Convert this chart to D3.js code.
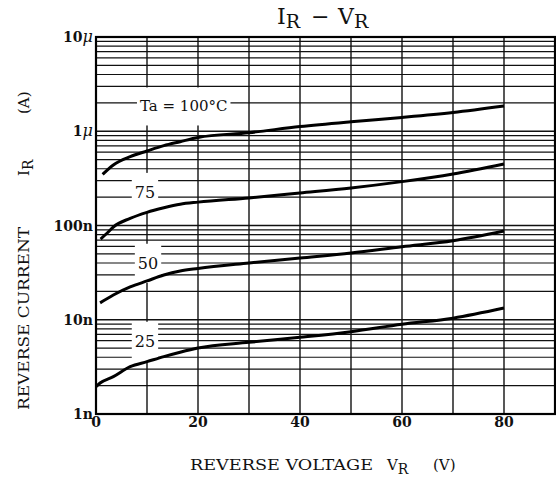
<!DOCTYPE html>
<html>
<head>
<meta charset="utf-8">
<script src="https://cdn.jsdelivr.net/npm/d3@7"></script>
<style>
  body { margin: 0; background: #fff; }
  svg { font-family: 'DejaVu Serif', serif; }
  text { fill: #111; }
</style>
</head>
<body>
<svg id="chart"></svg>
<script>
// IR - VR curves

// reverse voltage (V) and reverse current (A) for each temperature
var vr100 = [1.3, 3.4, 6.7, 10, 13.3, 16.5, 20, 30, 40, 50, 60, 70, 80];
var ir100 = [349e-9, 439e-9, 537e-9, 617e-9, 703e-9, 775e-9, 859e-9, 966e-9, 1.12e-6, 1.26e-6, 1.40e-6, 1.58e-6, 1.85e-6];

var vr75 = [0.9, 2.2, 3.4, 6.7, 10, 13.3, 16.5, 20, 30, 40, 50, 60, 70, 80];
var ir75 = [71.9e-9, 83.2e-9, 96.4e-9, 119e-9, 138e-9, 154e-9, 168e-9, 177e-9, 196e-9, 221e-9, 250e-9, 292e-9, 352e-9, 449e-9];

var vr50 = [0.8, 3.4, 6.7, 10, 13.3, 16.5, 20, 30, 40, 50, 60, 70, 80];
var ir50 = [15.1e-9, 18.3e-9, 22.3e-9, 25.8e-9, 29.8e-9, 32.9e-9, 35e-9, 40e-9, 45.2e-9, 51.1e-9, 59.6e-9, 69e-9, 87.4e-9];

var vr25 = [0, 0.8, 3.4, 6.7, 10, 13.3, 16.5, 20, 30, 40, 50, 60, 70, 80];
var ir25 = [1.95e-9, 2.13e-9, 2.49e-9, 3.18e-9, 3.59e-9, 4.06e-9, 4.52e-9, 5.01e-9, 5.76e-9, 6.51e-9, 7.47e-9, 8.95e-9, 10.4e-9, 13.3e-9];

// curve labels, placed in data units
var curveNames = ['Ta = 100°C', '75', '50', '25'];
var labelV = [17.2, 9.6, 10.2, 9.6];
var labelI = [1.85e-6, 226e-9, 40e-9, 5.95e-9];

// axis ticks
var xTicks = [0, 20, 40, 60, 80];
var yTicks = [1e-9, 1e-8, 1e-7, 1e-6, 1e-5];
var yTickText = [['1n', ''], ['10n', ''], ['100n', ''], ['1', 'μ'], ['10', 'μ']];

var W = 556, H = 481;
var svg = d3.select('#chart').attr('width', W).attr('height', H);

var x = d3.scaleLinear().domain([0, 90]).range([96, 555]);
var y = d3.scaleLog().domain([1e-9, 1e-5]).range([414, 37]);

// grid
var minor = [];
[1e-9, 1e-8, 1e-7, 1e-6].forEach(function (d) {
  for (var k = 2; k <= 9; k++) minor.push(d * k);
});

var grid = svg.append('g').attr('stroke', '#111').attr('fill', 'none');

grid.selectAll('line.minor').data(minor).enter().append('line')
  .attr('x1', x(0)).attr('x2', x(90))
  .attr('y1', function (d) { return y(d); })
  .attr('y2', function (d) { return y(d); })
  .attr('stroke-width', 1.2);

grid.selectAll('line.major').data(yTicks).enter().append('line')
  .attr('x1', x(0)).attr('x2', x(90))
  .attr('y1', function (d) { return y(d); })
  .attr('y2', function (d) { return y(d); })
  .attr('stroke-width', 1.6);

grid.selectAll('line.vert').data(d3.range(10, 90, 10)).enter().append('line')
  .attr('y1', y(1e-5)).attr('y2', y(1e-9))
  .attr('x1', function (d) { return x(d); })
  .attr('x2', function (d) { return x(d); })
  .attr('stroke-width', 1.4);

// label boxes knock out the grid behind the curve names
var labels = svg.append('g');
curveNames.forEach(function (name, i) {
  var g = labels.append('g');
  var t = g.append('text')
    .attr('x', x(labelV[i]))
    .attr('y', y(labelI[i]))
    .attr('dy', '0.36em')
    .attr('text-anchor', 'middle')
    .style('font-size', i === 0 ? '15px' : '16px')
    .text(name);
  var b = t.node().getBBox();
  g.insert('rect', 'text')
    .attr('x', b.x - 3).attr('y', b.y - 10)
    .attr('width', b.width + 6).attr('height', b.height + 20)
    .attr('fill', '#fff');
});

// curves
var line = d3.line()
  .x(function (d) { return x(d[0]); })
  .y(function (d) { return y(d[1]); })
  .curve(d3.curveMonotoneX);

var series = [[vr100, ir100], [vr75, ir75], [vr50, ir50], [vr25, ir25]];
svg.append('g').selectAll('path').data(series).enter().append('path')
  .attr('d', function (s) { return line(d3.zip(s[0], s[1])); })
  .attr('fill', 'none')
  .attr('stroke', '#000')
  .attr('stroke-width', 3);

// frame
svg.append('rect')
  .attr('x', x(0)).attr('y', y(1e-5))
  .attr('width', x(90) - x(0)).attr('height', y(1e-9) - y(1e-5))
  .attr('fill', 'none').attr('stroke', '#000').attr('stroke-width', 2.2);

// tick labels
var yl = svg.append('g').selectAll('text').data(yTicks).enter().append('text')
  .attr('x', x(0) - 3)
  .attr('y', function (d) { return y(d); })
  .attr('dy', '0.36em')
  .attr('text-anchor', 'end')
  .style('font-size', '14px')
  .style('font-weight', 'bold');
yl.append('tspan').text(function (d, i) { return yTickText[i][0]; });
yl.append('tspan').style('font-style', 'italic').style('font-weight', 'normal')
  .style('font-size', '16px')
  .text(function (d, i) { return yTickText[i][1]; });

svg.append('g').selectAll('text').data(xTicks).enter().append('text')
  .attr('x', function (d) { return x(d); })
  .attr('y', 427)
  .attr('text-anchor', 'middle')
  .style('font-size', '14px')
  .style('font-weight', 'bold')
  .text(function (d) { return d; });

// title
var title = svg.append('text').attr('y', 24).style('font-size', '22px');
title.append('tspan').attr('x', 277).text('I');
title.append('tspan').attr('dy', 4).style('font-size', '19px').text('R');
title.append('tspan').attr('x', 311).attr('dy', -4).text('−');
title.append('tspan').attr('x', 338).text('V');
title.append('tspan').attr('dy', 4).style('font-size', '19px').text('R');

// axis titles
var xt = svg.append('text').attr('y', 470).style('font-size', '15px');
xt.append('tspan').attr('x', 190).attr('textLength', 183)
  .attr('lengthAdjust', 'spacingAndGlyphs').text('REVERSE VOLTAGE');
xt.append('tspan').attr('x', 387).text('V');
xt.append('tspan').attr('dy', 4).style('font-size', '14px').text('R');
xt.append('tspan').attr('dy', -4).attr('x', 433).text('(V)');

var yt = svg.append('text').attr('transform', 'translate(29,0) rotate(-90)').style('font-size', '15px');
yt.append('tspan').attr('x', -410).attr('textLength', 183)
  .attr('lengthAdjust', 'spacingAndGlyphs').text('REVERSE CURRENT');
yt.append('tspan').attr('x', -176).text('I');
yt.append('tspan').attr('dy', 4).style('font-size', '14px').text('R');
yt.append('tspan').attr('dy', -4).attr('x', -114).text('(A)');
</script>
</body>
</html>
